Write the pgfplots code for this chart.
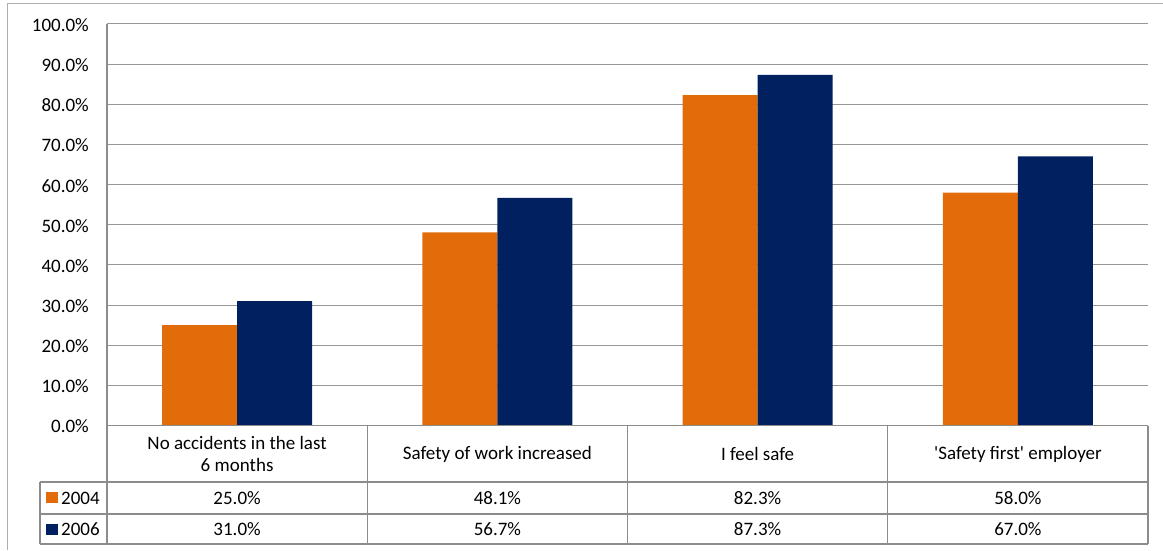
\documentclass[border=0pt]{standalone}
\usepackage{fontspec}
\setmainfont{Carlito}
\usepackage{pgfplots}
\usepackage{pgfplotstable}
\pgfplotsset{compat=1.18}

\definecolor{cOrange}{HTML}{E36C0A}
\definecolor{cNavy}{HTML}{002060}
\definecolor{cGrid}{HTML}{8C8C8C}

\pgfplotstableread{
x  y2004 y2006
0  25.0  31.0
1  48.1  56.7
2  82.3  87.3
3  58.0  67.0
}\survey

\begin{document}
\fontsize{19}{21}\selectfont
\begin{tikzpicture}[x=1pt,y=1pt]
\useasboundingbox (0,0) rectangle (1163,550);
% outer chart frame
\draw[cGrid!70, line width=1pt] (7,0) -- (7,546) -- (1163,546);

\begin{axis}[
    at={(107pt,124.5pt)}, anchor=south west,
    scale only axis,
    width=1041pt, height=401.5pt,
    xmin=-0.5, xmax=3.5,
    ymin=0, ymax=100,
    ytick={0,10,...,100},
    xtick=\empty,
    ybar=0pt, bar width=75pt,
    axis x line*=bottom, axis y line*=left,
    axis line style={cGrid, line width=1.2pt},
    major tick length=0pt,
    ymajorgrids,
    grid style={cGrid!90, line width=1pt},
    /pgf/number format/assume math mode=true,
    yticklabel={\pgfmathprintnumber[fixed,fixed zerofill,precision=1]{\tick}\%},
    yticklabel style={anchor=east, inner sep=0pt, xshift=-18pt, yshift=-1pt, font=\fontsize{19}{21}\selectfont},
    clip=false,
]
\addplot[fill=cOrange, draw=none] table[x=x, y=y2004] {\survey};
\addplot[fill=cNavy, draw=none] table[x=x, y=y2006] {\survey};
\end{axis}

% data table under the plot
\begin{scope}[cGrid, line width=1.2pt]
\draw (107,124.5) -- (1148,124.5);
\draw (40,68) -- (1148,68);
\draw (40,36) -- (1148,36);
\draw (40,6) -- (1148,6);
\draw (40,6) -- (40,68);
\foreach \xx in {107,367.25,627.5,887.75,1148} \draw (\xx,6) -- (\xx,124.5);
\end{scope}

\node[align=center, font=\fontsize{19}{22}\selectfont] at (237.1,96) {No accidents in the last\\6 months};
\node at (497.4,96) {Safety of work increased};
\node at (757.6,96) {I feel safe};
\node at (1017.9,96) {\textquotesingle Safety first\textquotesingle{} employer};

\fill[cOrange] (46,47) rectangle (58,58);
\fill[cNavy] (46,15) rectangle (58,26);
\node[anchor=west, inner sep=0pt] at (61,52) {2004};
\node[anchor=west, inner sep=0pt] at (61,21) {2006};

\foreach \xx/\va/\vb in {237.1/25.0/31.0, 497.4/48.1/56.7, 757.6/82.3/87.3, 1017.9/58.0/67.0} {
  \node at (\xx,52) {\va\%};
  \node at (\xx,21) {\vb\%};
}
\end{tikzpicture}
\end{document}
